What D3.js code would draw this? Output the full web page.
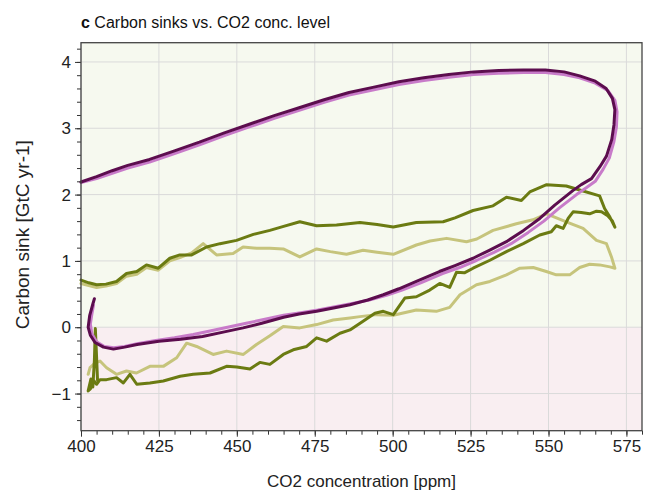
<!DOCTYPE html>
<html>
<head>
<meta charset="utf-8">
<script src="https://cdn.jsdelivr.net/npm/d3@7"></script>
<style>
  body { margin: 0; background: #fff; }
  svg { display: block; font-family: "Liberation Sans", Arial, sans-serif; }
</style>
</head>
<body>
<div id="chart"></div>
<script>
// [CO2 ppm, sink GtC/yr]
var darkPurple = [
  [400,2.19],[405,2.27],[410,2.36],[415,2.44],[422,2.53],[430,2.66],[438,2.79],[446,2.93],
  [454,3.06],[462,3.19],[470,3.31],[478,3.43],[486,3.54],[494,3.62],[502,3.70],[510,3.76],
  [518,3.81],[526,3.85],[534,3.87],[542,3.88],[549,3.88],[555,3.85],[560,3.79],[565,3.71],
  [568.5,3.6],[570.5,3.45],[571.3,3.28],[571,3.05],[570.3,2.83],[568.6,2.58],[566.5,2.42],
  [563.8,2.24],[560.5,2.15],[557.8,2.06],[552,1.84],[547.2,1.64],[542,1.46],[536.5,1.29],
  [531,1.16],[525.8,1.04],[520,0.93],[515,0.84],[507.6,0.69],[502,0.58],[497,0.49],[492,0.41],
  [486.3,0.34],[481,0.29],[475.6,0.24],[470,0.2],[465,0.15],[458,0.06],[452,-0.01],[446,-0.07],
  [439,-0.14],[432,-0.18],[425,-0.21],[418,-0.26],[414,-0.3],[410.4,-0.33],[407.2,-0.3],
  [404.5,-0.23],[403,-0.12],[402.3,0.0],[402.8,0.18],[403.8,0.35],[404.3,0.43]
];
var lightPurple = [
  [400,2.18],[405,2.24],[410,2.32],[415,2.40],[422,2.49],[430,2.62],[438,2.75],[446,2.89],
  [454,3.02],[462,3.15],[470,3.27],[478,3.39],[486,3.50],[494,3.58],[502,3.66],[510,3.72],
  [518,3.77],[526,3.81],[534,3.83],[542,3.84],[549,3.84],[555,3.81],[560,3.76],[565,3.68],
  [569,3.57],[571.3,3.42],[572,3.25],[571.8,3.02],[571,2.8],[569.5,2.55],[567.5,2.38],[565,2.2],
  [562,2.1],[559,2.0],[553.5,1.8],[548.5,1.6],[543.5,1.43],[538,1.26],[532.5,1.13],[527,1.01],
  [521.5,0.9],[516,0.81],[509,0.67],[503,0.56],[498,0.48],[492.5,0.41],[487,0.36],[481.5,0.31],
  [476,0.26],[470.5,0.22],[465,0.18],[459,0.12],[453,0.06],[447,0.0],[441,-0.06],[436,-0.11],
  [430,-0.16],[424,-0.2],[418,-0.25],[414,-0.29],[410.5,-0.31],[407.5,-0.29],[405,-0.22],
  [403.5,-0.1],[403,0.05],[403.5,0.2],[404,0.33]
];
var darkOlive = [
  [400,0.71],[402.5,0.67],[405,0.64],[408,0.65],[411.4,0.69],[414.6,0.81],[417.9,0.84],[421,0.94],
  [424.8,0.89],[428.5,1.04],[431.7,1.09],[435.5,1.09],[440.3,1.21],[444.6,1.26],[449.9,1.31],
  [455.3,1.40],[460.6,1.46],[465,1.52],[470.2,1.59],[475.6,1.53],[482,1.54],[489.5,1.58],
  [495,1.55],[500.2,1.51],[507.6,1.58],[516.2,1.59],[520,1.65],[525.8,1.76],[532.2,1.83],
  [536.5,1.96],[541.3,1.91],[544,2.04],[549.4,2.15],[555.7,2.13],[560,2.07],[566.4,1.98],
  [568,1.79],[569.7,1.66],[571.3,1.51],
  [570.5,1.6],[569,1.68],[567,1.74],[565.4,1.75],[563.2,1.71],[560.5,1.73],[557.9,1.74],
  [556.3,1.64],[554.7,1.49],[552.5,1.53],[550.9,1.44],[547.2,1.39],[541.9,1.26],[536.5,1.14],
  [531.2,1.01],[525.8,0.89],[523,0.82],[520.5,0.83],[518.3,0.6],[515.1,0.66],[511.9,0.56],
  [507.6,0.46],[503.9,0.44],[500.2,0.19],[497,0.24],[494.3,0.21],[490.5,0.09],[486.3,-0.04],
  [483.1,-0.09],[478.8,-0.21],[475.6,-0.16],[472.4,-0.29],[468.1,-0.34],[464.9,-0.41],
  [460.6,-0.56],[457.4,-0.53],[454.2,-0.63],[450,-0.6],[446.7,-0.59],[441.4,-0.69],[436,-0.71],
  [431.8,-0.74],[426.4,-0.81],[422.1,-0.84],[417.9,-0.86],[415.7,-0.71],[413.6,-0.84],
  [411.4,-0.76],[408.2,-0.79],[406.1,-0.79],[405,-0.86],[404,-0.8],[403,-0.93],[402.3,-0.96],
  [403.2,-0.78],[403.8,-0.9],[404.3,-0.5],[404.6,-0.02],[405,-0.45],[405.3,-0.8]
];
var lightOlive = [
  [400,0.66],[402.5,0.63],[405,0.6],[408,0.62],[411.4,0.66],[414.6,0.77],[417.9,0.8],[421,0.9],
  [424.8,0.86],[428.5,1.0],[431.7,1.05],[435.5,1.12],[439.2,1.26],[443.5,1.09],[448.8,1.11],
  [452,1.21],[456.3,1.19],[460.6,1.19],[464.9,1.18],[470.2,1.06],[475.6,1.18],[480,1.14],
  [485.2,1.10],[490.5,1.16],[495,1.13],[500.2,1.10],[507.6,1.24],[512,1.3],[517.3,1.34],
  [523.7,1.29],[527,1.33],[532.2,1.46],[539.7,1.56],[545,1.62],[549.4,1.71],[555.7,1.59],
  [561.1,1.49],[565.4,1.31],[568.6,1.26],[570.2,1.06],[571.3,0.89],
  [569.7,0.91],[566.4,0.94],[563.2,0.95],[560,0.90],[556.8,0.79],[552.5,0.79],[549.3,0.84],
  [545.1,0.90],[540.8,0.89],[536.5,0.79],[531.2,0.69],[526.9,0.64],[521.6,0.49],[518.3,0.3],
  [514,0.24],[507.6,0.26],[500.2,0.18],[494.9,0.19],[489.5,0.16],[486.3,0.14],[480.9,0.11],
  [475.6,0.04],[470.2,-0.01],[464.9,0.01],[460.6,-0.13],[456.3,-0.26],[452.1,-0.41],
  [446.7,-0.36],[442.4,-0.41],[437.1,-0.29],[433.9,-0.24],[430.7,-0.46],[426.4,-0.59],
  [422.1,-0.59],[417.8,-0.69],[414.6,-0.66],[411.4,-0.71],[408.2,-0.61],[406.1,-0.51],
  [404.5,-0.54],[402.9,-0.61],[402.3,-0.71]
];

var xTicks = [400, 425, 450, 475, 500, 525, 550, 575];
var yTicks = [-1, 0, 1, 2, 3, 4];

var width = 646, height = 494;
var margin = {top: 42.7, right: 4, bottom: 63.3, left: 81};
var w = width - margin.left - margin.right,
    h = height - margin.top - margin.bottom;

var svg = d3.select('#chart').append('svg')
  .attr('width', width)
  .attr('height', height);

var g = svg.append('g')
  .attr('transform', 'translate(' + margin.left + ',' + margin.top + ')');

var x = d3.scaleLinear().domain([400, 580]).range([0, w]);
var y = d3.scaleLinear().domain([-1.56, 4.29]).range([h, 0]);

// positive / negative sink shading
g.append('rect')
  .attr('x', 0).attr('y', 0)
  .attr('width', w).attr('height', y(0))
  .attr('fill', '#f6f9ef');
g.append('rect')
  .attr('x', 0).attr('y', y(0))
  .attr('width', w).attr('height', h - y(0))
  .attr('fill', '#f9eef1');

// grid
g.selectAll('.vgrid').data(xTicks).enter().append('line')
  .attr('x1', function(d) { return x(d); }).attr('x2', function(d) { return x(d); })
  .attr('y1', 0).attr('y2', h)
  .attr('stroke', '#dadada').attr('stroke-width', 1);
g.selectAll('.hgrid').data(yTicks).enter().append('line')
  .attr('x1', 0).attr('x2', w)
  .attr('y1', function(d) { return y(d); }).attr('y2', function(d) { return y(d); })
  .attr('stroke', '#dadada').attr('stroke-width', 1);

// curves
var line = d3.line()
  .x(function(d) { return x(d[0]); })
  .y(function(d) { return y(d[1]); });

var series = [
  {data: lightOlive, color: '#c6c47c'},
  {data: darkOlive, color: '#6b7b12'},
  {data: lightPurple, color: '#c87bc9'},
  {data: darkPurple, color: '#5c0d4e'}
];

g.selectAll('.curve').data(series).enter().append('path')
  .attr('d', function(d) { return line(d.data); })
  .attr('fill', 'none')
  .attr('stroke', function(d) { return d.color; })
  .attr('stroke-width', 3)
  .attr('stroke-linejoin', 'round')
  .attr('stroke-linecap', 'round');

// axes
var xAxis = d3.axisBottom(x).tickValues(xTicks).tickSize(6).tickPadding(3)
  .tickFormat(d3.format('d'));
var xMinor = d3.axisBottom(x).tickValues(d3.range(400, 581, 5)).tickSize(4).tickFormat('');
var yAxis = d3.axisLeft(y).tickValues(yTicks).tickSize(6).tickPadding(4)
  .tickFormat(function(d) { return d < 0 ? '\u2212' + Math.abs(d) : d; });
var yMinor = d3.axisLeft(y).tickValues(d3.range(-1.4, 4.3, 0.2)).tickSize(4).tickFormat('');

[g.append('g').attr('transform', 'translate(0,' + h + ')').call(xMinor),
 g.append('g').call(yMinor)].forEach(function(a) {
  a.select('.domain').remove();
  a.selectAll('line').attr('stroke', '#333');
});
var gx = g.append('g').attr('transform', 'translate(0,' + h + ')').call(xAxis);
var gy = g.append('g').call(yAxis);
[gx, gy].forEach(function(a) {
  a.select('.domain').remove();
  a.selectAll('line').attr('stroke', '#333');
  a.selectAll('text').style('font-size', '17px').attr('fill', '#222');
});

// frame
g.append('rect')
  .attr('width', w).attr('height', h)
  .attr('fill', 'none')
  .attr('stroke', '#444')
  .attr('stroke-width', 1.3);

// labels
svg.append('text')
  .attr('x', margin.left + w / 2)
  .attr('y', 487)
  .attr('text-anchor', 'middle')
  .style('font-size', '17px')
  .attr('fill', '#222')
  .text('CO2 concentration [ppm]');

svg.append('text')
  .attr('transform', 'translate(29,' + (margin.top + h / 2 - 2) + ') rotate(-90)')
  .attr('text-anchor', 'middle')
  .style('font-size', '19px')
  .attr('fill', '#222')
  .text('Carbon sink [GtC yr-1]');

var title = svg.append('text')
  .attr('x', margin.left)
  .attr('y', 28)
  .style('font-size', '16px')
  .attr('fill', '#111');
title.append('tspan').style('font-weight', 'bold').text('c');
title.append('tspan').text(' Carbon sinks vs. CO2 conc. level');
</script>
</body>
</html>
